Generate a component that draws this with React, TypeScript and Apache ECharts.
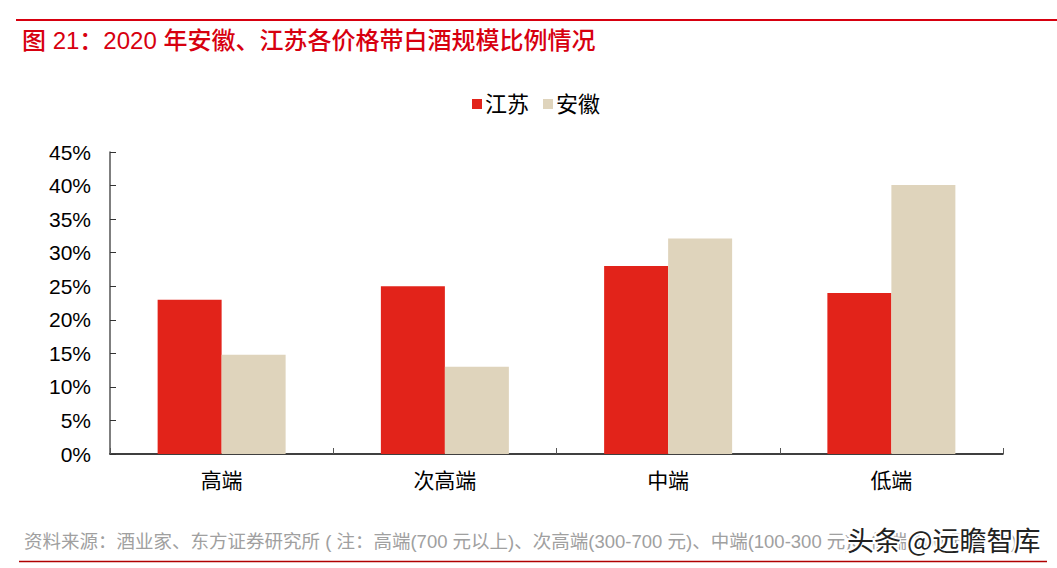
import React, { useEffect, useRef } from "react";
import * as echarts from "echarts";

const categories = ["高端", "次高端", "中端", "低端"];
const jiangsu = [23, 25, 28, 24];
const anhui = [14.8, 13, 32.1, 40.1];
const seriesNames = ["江苏", "安徽"];
const titleText = "图 21：2020 年安徽、江苏各价格带白酒规模比例情况";
const sourceText = "资料来源：酒业家、东方证券研究所 ( 注：高端(700 元以上)、次高端(300-700 元)、中端(100-300 元)、低端(100 元以下))";
const watermark = "头条 @远瞻智库";

const FONT = "'Liberation Sans', Arial, 'Noto Sans CJK SC', sans-serif";

export default function App() {
  const ref = useRef<HTMLDivElement>(null);
  useEffect(() => {
    if (!ref.current) return;
    const chart = echarts.init(ref.current, null, { renderer: "svg" });
    chart.setOption({
      animation: false,
      backgroundColor: "#ffffff",
      textStyle: { fontFamily: FONT },
      legend: {
        data: seriesNames,
        top: 88,
        left: 467,
        itemWidth: 10,
        itemHeight: 10,
        itemGap: 14,
        icon: "rect",
        textStyle: { fontSize: 22, color: "#000", fontFamily: FONT, padding: [0, 0, 0, -2] },
      },
      grid: { left: 110, right: 54, top: 152, bottom: 114 },
      xAxis: {
        type: "category",
        data: categories,
        axisLine: { lineStyle: { color: "#000", width: 1.5 } },
        axisTick: { show: true, inside: true, length: 6, alignWithLabel: false, lineStyle: { color: "#555" } },
        axisLabel: { fontSize: 21, color: "#000", margin: 16, fontFamily: FONT },
      },
      yAxis: {
        type: "value",
        min: 0,
        max: 45,
        interval: 5,
        axisLine: { show: true, lineStyle: { color: "#555", width: 1.5 } },
        axisTick: { show: true, inside: true, length: 6, lineStyle: { color: "#333" } },
        splitLine: { show: false },
        axisLabel: { fontSize: 21, color: "#000", margin: 19, formatter: "{value}%", fontFamily: FONT },
      },
      series: [
        {
          name: seriesNames[0],
          type: "bar",
          data: jiangsu,
          itemStyle: { color: "#E2231A" },
          barWidth: 64,
          barGap: "0%",
        },
        {
          name: seriesNames[1],
          type: "bar",
          data: anhui,
          itemStyle: { color: "#DFD4BC" },
          barWidth: 64,
          barGap: "0%",
        },
      ],
      graphic: [
        { type: "line", shape: { x1: 16, y1: 20, x2: 1057, y2: 20 }, style: { stroke: "#D7000F", lineWidth: 2 } },
        {
          type: "text",
          left: 22,
          top: 28,
          style: { text: titleText, fontSize: 24, fontWeight: 500, fill: "#D7000F", fontFamily: FONT },
        },
        {
          type: "text",
          left: 24,
          top: 532,
          style: { text: sourceText, fontSize: 18.5, fill: "#a0a0a0", fontFamily: FONT },
        },
        { type: "line", shape: { x1: 19, y1: 561.5, x2: 1047, y2: 561.5 }, style: { stroke: "#B00000", lineWidth: 1.5 } },
        {
          type: "text",
          left: 845,
          top: 524,
          style: {
            text: watermark,
            fontSize: 27,
            fill: "#222",
            stroke: "#ffffff",
            lineWidth: 4,
            fontFamily: "'Noto Sans CJK SC', sans-serif",
          },
        },
      ],
    });
    return () => chart.dispose();
  }, []);
  return <div ref={ref} style={{ width: 1057, height: 568, position: "absolute", left: 0, top: 0 }} />;
}
